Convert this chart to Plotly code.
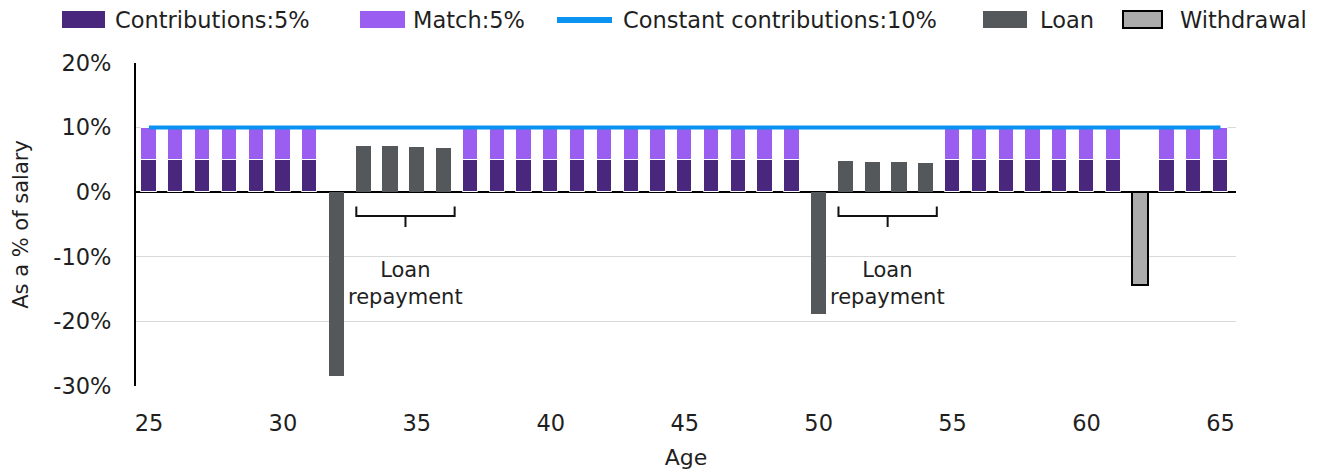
import plotly.graph_objects as go

# Contribution history by age (values as % of salary)
contrib_ages = list(range(25, 32)) + list(range(37, 50)) + list(range(55, 62)) + list(range(63, 66))
contrib_pct = 5
match_pct = 5

loan_ages = [32, 33, 34, 35, 36, 50, 51, 52, 53, 54]
loan_vals = [-28.5, 7.2, 7.2, 7.0, 6.8, -18.8, 4.9, 4.7, 4.7, 4.5]

withdrawal_ages = [62]
withdrawal_vals = [-14.4]

constant_ages = list(range(25, 66))
constant_pct = 10

repayment_groups = [[33, 34, 35, 36], [51, 52, 53, 54]]
repayment_label = "Loan<br>repayment"

y_ticks = [-30, -20, -10, 0, 10, 20]
x_ticks = [25, 30, 35, 40, 45, 50, 55, 60, 65]

C_CONTRIB = "#48277D"
C_MATCH = "#9A5EF0"
C_LINE = "#0A93F0"
C_LOAN = "#55585B"
C_WITHDRAW = "#ABABAB"
FONT = "DejaVu Sans"
TXT = "#1f1f1f"

W, H = 1317, 472
ML, MR, MT, MB = 136, 81, 63, 86
BAR_W = 0.57

fig = go.Figure()
fig.add_trace(go.Bar(x=contrib_ages, y=[contrib_pct] * len(contrib_ages), width=BAR_W,
                     marker=dict(color=C_CONTRIB, line=dict(color="white", width=1)),
                     name="Contributions:5%", showlegend=False))
fig.add_trace(go.Bar(x=contrib_ages, y=[match_pct] * len(contrib_ages), width=BAR_W,
                     marker=dict(color=C_MATCH, line=dict(color="white", width=1)),
                     name="Match:5%", showlegend=False))
fig.add_trace(go.Bar(x=loan_ages, y=loan_vals, width=BAR_W,
                     marker=dict(color=C_LOAN, line=dict(width=0)),
                     name="Loan", showlegend=False))
fig.add_trace(go.Bar(x=withdrawal_ages, y=withdrawal_vals, width=BAR_W * 1.05,
                     marker=dict(color=C_WITHDRAW, line=dict(color="black", width=2)),
                     name="Withdrawal", showlegend=False))
fig.add_trace(go.Scatter(x=constant_ages, y=[constant_pct] * len(constant_ages), mode="lines",
                         line=dict(color=C_LINE, width=4), name="Constant contributions:10%",
                         showlegend=False))

shapes = []
annotations = []

# Brackets under the repayment bars
for grp in repayment_groups:
    x0, x1 = min(grp) - 0.26, max(grp) + 0.41
    xm = (x0 + x1) / 2
    ytop, ymid, ybot = -2.2, -3.7, -5.4
    path = f"M{x0},{ytop} L{x0},{ymid} L{x1},{ymid} L{x1},{ytop} M{xm},{ymid} L{xm},{ybot}"
    shapes.append(dict(type="path", path=path, xref="x", yref="y",
                       line=dict(color="#111", width=2)))
    annotations.append(dict(x=xm, y=-14.2, xref="x", yref="y", text=repayment_label,
                            showarrow=False, font=dict(family=FONT, size=21, color=TXT),
                            align="center"))

# Legend drawn along the top edge
pw, ph = W - ML - MR, H - MT - MB
def px(x):
    return (x - ML) / pw
def py(y):
    return (H - MB - y) / ph

legend_items = [
    ("rect", C_CONTRIB, None, 62, 105, "Contributions:5%", 113),
    ("rect", C_MATCH, None, 360, 405, "Match:5%", 411),
    ("line", C_LINE, None, 557, 612, "Constant contributions:10%", 621),
    ("rect", C_LOAN, None, 983, 1027, "Loan", 1038),
    ("rect", C_WITHDRAW, "black", 1123, 1162, "Withdrawal", 1178),
]
for kind, col, edge, sx0, sx1, label, tx in legend_items:
    if kind == "rect":
        shapes.append(dict(type="rect", xref="paper", yref="paper",
                           x0=px(sx0), x1=px(sx1), y0=py(28), y1=py(11),
                           fillcolor=col,
                           line=dict(color=edge if edge else col, width=2 if edge else 0)))
    else:
        shapes.append(dict(type="line", xref="paper", yref="paper",
                           x0=px(sx0), x1=px(sx1), y0=py(20), y1=py(20),
                           line=dict(color=col, width=6)))
    annotations.append(dict(x=px(tx), y=py(20), xref="paper", yref="paper", text=label,
                            showarrow=False, xanchor="left", yanchor="middle",
                            font=dict(family=FONT, size=22.5, color=TXT)))

fig.update_layout(
    width=W, height=H,
    margin=dict(l=ML, r=MR, t=MT, b=MB),
    paper_bgcolor="white", plot_bgcolor="white",
    barmode="relative", bargap=0,
    font=dict(family=FONT, size=22, color=TXT),
    shapes=shapes, annotations=annotations,
    showlegend=False,
)
fig.update_xaxes(range=[24.515, 65.58], tickvals=x_ticks, ticktext=[str(v) for v in x_ticks],
                 showgrid=False, zeroline=False, showline=False, automargin=False,
                 ticks="outside", ticklen=17, tickcolor="rgba(0,0,0,0)",
                 tickfont=dict(size=22.5, color=TXT),
                 title=dict(text="Age", font=dict(size=22, color=TXT), standoff=14))
fig.update_yaxes(range=[-30, 20], tickvals=y_ticks, ticktext=[f"{v}%" for v in y_ticks],
                 showgrid=True, gridcolor="#d9d9d9", gridwidth=1,
                 zeroline=True, zerolinecolor="black", zerolinewidth=2,
                 showline=True, linecolor="black", linewidth=2, automargin=False,
                 ticks="outside", ticklen=18, tickcolor="rgba(0,0,0,0)",
                 tickfont=dict(size=22.5, color=TXT),
                 title=dict(text="As a % of salary", font=dict(size=21, color=TXT), standoff=19))

fig.write_html("out.html")
